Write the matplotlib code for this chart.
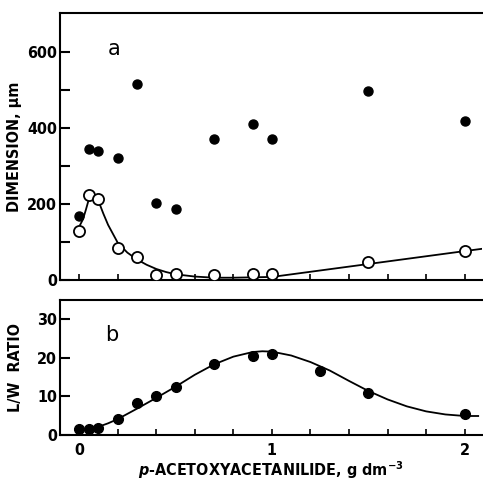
import matplotlib
matplotlib.use("Agg")
from matplotlib import pyplot as plt
import numpy as np

plt.rcParams['font.family'] = ['DejaVu Sans']
plt.rcParams['font.weight'] = 'bold'
plt.rcParams['font.stretch'] = 'condensed'
plt.rcParams['axes.labelweight'] = 'bold'

# panel a: crystal length (filled) and width (open), um
conc = [0.0, 0.05, 0.1, 0.2, 0.3, 0.4, 0.5, 0.7, 0.9, 1.0, 1.5, 2.0]
length_um = [167, 345, 340, 322, 516, 202, 188, 370, 411, 372, 496, 418]
width_um = [130, 224, 214, 83, 60, 14, 16, 13, 16, 15, 46, 77]

# hand-drawn curve through the width points
width_curve_x = [0.005, 0.02, 0.035, 0.05, 0.07, 0.1, 0.125, 0.15, 0.2, 0.25, 0.3, 0.35, 0.4,
                 0.45, 0.5, 0.6, 0.7, 0.8, 0.9, 1.0, 1.25, 1.5, 1.75, 2.0, 2.09]
width_curve_y = [145, 160, 185, 212, 222, 208, 175, 145, 98, 72, 54, 40, 29,
                 21, 15, 9, 6, 6, 7, 8, 25, 42, 59, 76, 82]

# panel b: L/W ratio
ratio_x = [0.0, 0.05, 0.1, 0.2, 0.3, 0.4, 0.5, 0.7, 0.9, 1.0, 1.25, 1.5, 2.0]
ratio = [1.4, 1.4, 1.7, 4.0, 8.4, 10.2, 12.3, 18.4, 20.4, 20.9, 16.7, 10.8, 5.3]

ratio_curve_x = [0.0, 0.05, 0.1, 0.15, 0.2, 0.3, 0.4, 0.5, 0.6, 0.7, 0.8, 0.9, 0.95, 1.0,
                 1.1, 1.2, 1.3, 1.4, 1.5, 1.6, 1.7, 1.8, 1.9, 2.0, 2.07]
ratio_curve_y = [1.0, 1.4, 2.1, 3.0, 4.1, 6.8, 9.6, 12.5, 15.6, 18.3, 20.3, 21.5, 21.7, 21.6,
                 20.6, 18.9, 16.7, 14.0, 11.4, 9.2, 7.4, 6.1, 5.3, 4.9, 4.9]

fig = plt.figure(figsize=(4.83, 4.8), dpi=100)
ax1 = fig.add_axes([0.124, 0.4167, 0.874, 0.556])
ax2 = fig.add_axes([0.124, 0.094, 0.874, 0.281])

for ax in (ax1, ax2):
    ax.set_xlim(-0.1, 2.09)
    ax.spines['right'].set_visible(False)
    for s in ('left', 'top', 'bottom'):
        ax.spines[s].set_linewidth(1.5)
    ax.set_xticks(np.arange(0, 2.01, 0.2))
    ax.tick_params(axis='x', direction='in', length=4, width=1.2)
    ax.tick_params(axis='y', direction='in', length=7, width=1.5, labelsize=11.5, pad=2)

# top panel
ax1.plot(width_curve_x, width_curve_y, color='black', lw=1.3, zorder=2)
ax1.plot(conc, length_um, 'o', color='black', ms=6.5, zorder=3)
ax1.plot(conc, width_um, 'o', mfc='white', mec='black', mew=1.3, ms=8, zorder=4)
ax1.set_ylim(0, 702)
ax1.set_yticks([0, 100, 200, 300, 400, 500, 600])
ax1.set_yticklabels(['0', '', '200', '', '400', '', '600'])
ax1.tick_params(axis='x', labelbottom=False)
ax1.set_ylabel('DIMENSION, μm', fontsize=11.5, labelpad=4)
ax1.text(0.18, 608, 'a', fontsize=15, fontweight='normal', stretch='normal', ha='center', va='center')

# bottom panel
ax2.plot(ratio_curve_x, ratio_curve_y, color='black', lw=1.3, zorder=2)
ax2.plot(ratio_x, ratio, 'o', color='black', ms=7, zorder=3)
ax2.set_ylim(0, 35)
ax2.set_yticks([0, 10, 20, 30])
ax2.set_xticklabels(['0', '', '', '', '', '1', '', '', '', '', '2'], fontsize=11.5)
ax2.tick_params(axis='x', pad=6)
ax2.set_ylabel('L/W  RATIO', fontsize=11.5, labelpad=10)
ax2.set_xlabel(r'$\it{p}$-ACETOXYACETANILIDE, g dm$^{-3}$', fontsize=11.5, labelpad=1)
ax2.text(0.17, 26, 'b', fontsize=15, fontweight='normal', stretch='normal', ha='center', va='center')

fig.savefig('out.png', dpi=100)
